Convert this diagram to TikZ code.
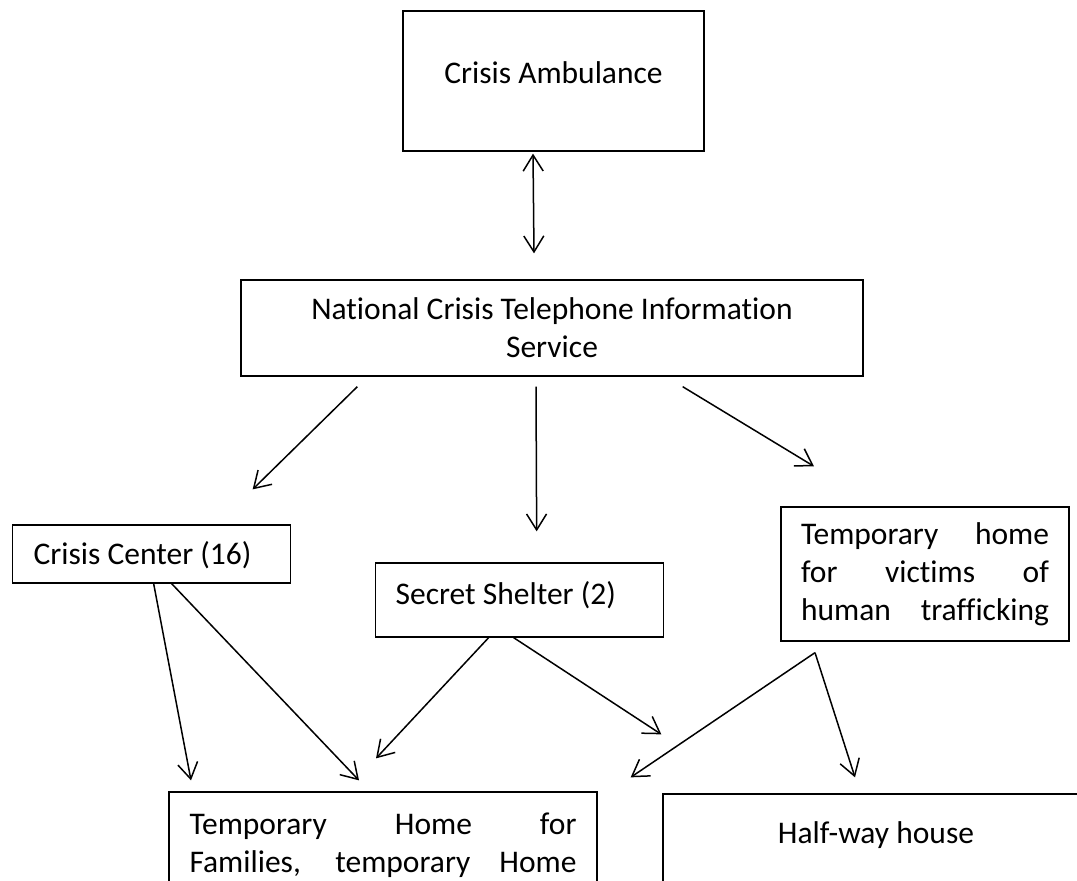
\documentclass[tikz,border=0pt]{standalone}
\usepackage{fontspec}
\setmainfont{Carlito}[Ligatures={NoCommon}]
\usepackage{tikz}
\usetikzlibrary{arrows.meta,positioning,calc}

\begin{document}
\begin{tikzpicture}[x=1pt,y=-1pt,
    box/.style={draw,line width=1.3pt,inner sep=0pt},
    arr/.style={-{Straight Barb[length=16pt,width=20pt]},line width=1.5pt},
    dbl/.style={{Straight Barb[length=16pt,width=20pt]}-{Straight Barb[length=16pt,width=20pt]},line width=1.5pt},
    every node/.style={font=\fontsize{31.5}{38}\selectfont}]
  % Crisis services network -- boxes and arrows, px coordinates
  \def\jw{248pt}         % justified line width, narrow boxes
  \def\fw{387pt}         % justified line width, families box
  \useasboundingbox (0,0) rectangle (1077,881);
  % --- Top ---
  \node[box,anchor=base,minimum width=301pt,text height=72pt,text depth=68pt]
    (amb) at (553.5,83) {Crisis Ambulance};
  \node[box,align=center,minimum width=622pt,minimum height=96pt]
    (ncts) at (552,328) {National Crisis Telephone Information\\Service};
  % --- Middle row ---
  \node[box,anchor=base west,inner xsep=21pt,text height=39pt,text depth=19pt]
    (center) at (12,564) {\makebox[236pt][l]{Crisis Center (16)}};
  \node[box,anchor=base west,inner xsep=20pt,text height=41pt,text depth=33pt]
    (shelter) at (375,604) {\makebox[\jw][l]{Secret Shelter (2)}};
  \node[box,align=center,inner xsep=20pt,minimum height=134pt]
    (victims) at (925,574) {\makebox[\jw][s]{Temporary home}\\
      \makebox[\jw][s]{for victims of}\\\makebox[\jw][s]{human trafficking}};
  % --- Bottom row (cut by the page edge) ---
  \node[box,align=center,inner xsep=20.5pt,minimum height=106pt]
    (families) at (383,845) {\makebox[\fw][s]{Temporary Home for}\\
      \makebox[\fw][s]{Families, temporary Home}};
  \node[box,anchor=base,minimum width=426pt,text height=49pt,text depth=70pt]
    (halfway) at (876,843) {Half-way house};
  % --- Arrows ---
  \draw[dbl] ($(amb.south)+(-20.5,2)$) -- ($(ncts.north)+(-18,-26)$);
  \draw[arr] ($(ncts.south west)+(117,10)$) -- ($(center.north)+(101,-35)$);
  \draw[arr] ($(ncts.south)+(-16,10)$) -- ($(shelter.north)+(17,-31)$);
  \draw[arr] ($(ncts.south east)+(-181,10)$) -- ($(victims.north)+(-111,-40)$);
  \draw[arr] ($(center.south)+(2,0)$) -- ($(families.north)+(-192,-11)$);
  \draw[arr] ($(center.south)+(20,0)$) -- ($(families.north)+(-24,-11)$);
  \draw[arr] ($(shelter.south)+(-31,0)$) -- ($(families.north)+(-7,-33)$);
  \draw[arr] ($(shelter.south)+(-6,0)$) -- ($(halfway.north west)+(-1,-59)$);
  \draw[arr] ($(victims.south)+(-110,11)$) -- ($(families.north east)+(33,-14)$);
  \draw[arr] ($(victims.south)+(-110,11)$) -- ($(halfway.north)+(-21,-16)$);
\end{tikzpicture}
\end{document}
